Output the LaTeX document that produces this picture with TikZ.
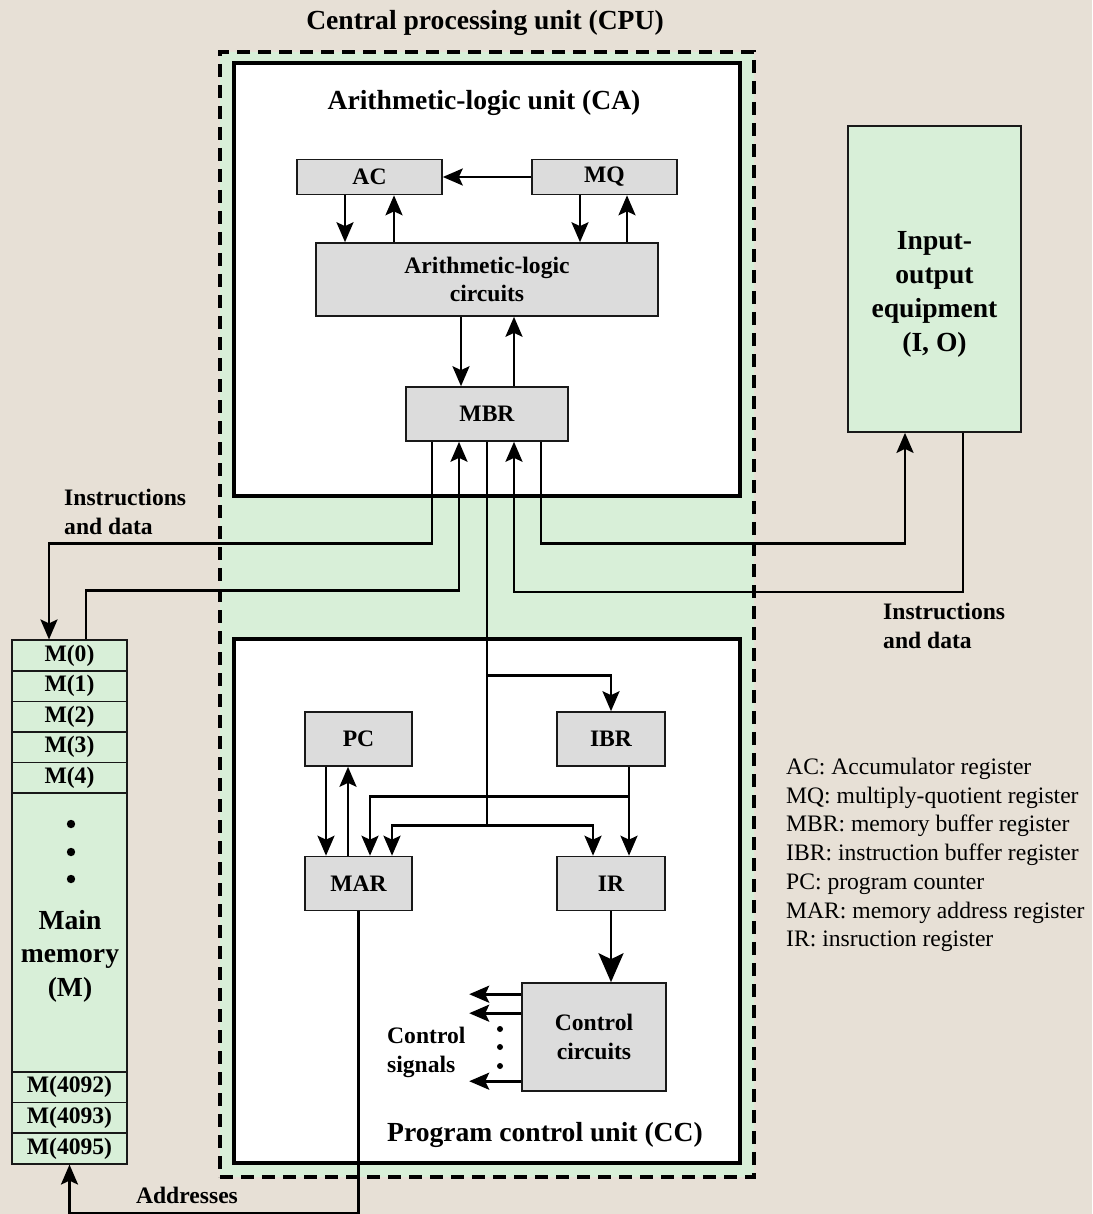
\documentclass[tikz,border=0pt]{standalone}
\usepackage{fontspec}
\setmainfont{Liberation Serif}
\usetikzlibrary{arrows.meta}

\definecolor{paper}{RGB}{231,224,214}
\definecolor{cpugreen}{RGB}{216,239,216}
\definecolor{reggray}{RGB}{220,220,220}

\newcommand{\bigbf}{\fontsize{27.6}{33.5}\selectfont\bfseries}
\newcommand{\smallbf}{\fontsize{23.6}{28.5}\selectfont\bfseries}
\newcommand{\legendfont}{\fontsize{23.6}{28.7}\selectfont}

\tikzset{
  reg/.style={draw=black!90, fill=reggray, line width=1.6pt, inner sep=0pt, font=\smallbf},
  unit/.style={draw, fill=white, line width=3.8pt, inner sep=0pt},
  memcell/.style={draw=black!90, fill=cpugreen, line width=1.5pt, minimum width=115, minimum height=30.6, inner sep=0pt, font=\smallbf},
  conn/.style={line width=2.7pt},
  arr/.style={conn, -{Stealth[length=20pt,width=17pt,inset=4pt]}},
  bigarr/.style={conn, -{Stealth[length=29pt,width=25pt,inset=6pt]}},
  lbl/.style={inner sep=0pt, font=\smallbf, align=left},
  title/.style={inner sep=0pt, font=\bigbf, align=center},
}

\begin{document}
\begin{tikzpicture}[x=1pt, y=-1pt]
    % Background
    \fill[paper] (0,0) rectangle (1092,1214);
    \useasboundingbox (0,0) rectangle (1092,1214);

    % Central processing unit
    \node[title] (cpulabel) at (485,23) {Central processing unit (CPU)};
    \node[draw, fill=cpugreen, line width=3.4pt, dash pattern=on 13pt off 8pt,
          minimum width=534, minimum height=1125] (cpu) at (487,614.5) {};

    % Arithmetic-logic unit
    \node[unit, minimum width=506, minimum height=433] (ca) at (487,279.5) {};
    \node[title] (catitle) at (484,103) {Arithmetic-logic unit (CA)};
    \node[reg, minimum width=145, minimum height=35] (ac) at (369.5,177) {AC};
    \node[reg, minimum width=145, minimum height=35] (mq) at (604.5,177) {MQ};
    \node[reg, minimum width=342, minimum height=73, align=center] (alc) at (487,279.5) {Arithmetic-logic\\circuits};
    \node[reg, minimum width=162, minimum height=54] (mbr) at (487,414) {MBR};

    % Program control unit
    \node[unit, minimum width=506, minimum height=524] (cc) at (487,901) {};
    \node[title] (cctitle) at (545,1135) {Program control unit (CC)};
    \node[reg, minimum width=107, minimum height=54] (pc) at (358.5,739) {PC};
    \node[reg, minimum width=108, minimum height=54] (ibr) at (611,739) {IBR};
    \node[reg, minimum width=107, minimum height=54] (mar) at (358.5,883.5) {MAR};
    \node[reg, minimum width=108, minimum height=54] (ir) at (611,883.5) {IR};
    \node[reg, minimum width=144, minimum height=108, align=center] (ctrl) at (594,1037) {Control\\circuits};

    % Input-output equipment
    \node[draw=black!90, fill=cpugreen, line width=1.7pt, minimum width=173, minimum height=306] (io) at (934.5,279) {};
    \node[title, font=\fontsize{27.6}{34}\selectfont\bfseries] (iolabel) at (934.5,294) {Input-\\output\\equipment\\(I, O)};

    % Main memory
    \foreach \i in {0,...,4}
        \node[memcell] (m\i) at (69.5,655.5+30.6*\i) {M(\i)};
    \node[memcell, minimum height=279] (mbody) at (69.5,932.5) {};
    \foreach \y in {824,852,879}
        \fill (71,\y) circle (4.2);
    \node[title] (mlabel) at (70,956) {Main\\memory\\(M)};
    \node[memcell] (m4092) at (69.5,1087.3) {M(4092)};
    \node[memcell] (m4093) at (69.5,1117.9) {M(4093)};
    \node[memcell] (m4095) at (69.5,1148.5) {M(4095)};

    % Inside the ALU
    \draw[arr] (mq.west) -- (ac.east);
    \draw[arr] ([xshift=-24.5]ac.south) -- ([xshift=-24.5]ac.south |- alc.north);
    \draw[arr] ([xshift=24.5]ac.south |- alc.north) -- ([xshift=24.5]ac.south);
    \draw[arr] ([xshift=-24.5]mq.south) -- ([xshift=-24.5]mq.south |- alc.north);
    \draw[arr] ([xshift=22.5]mq.south |- alc.north) -- ([xshift=22.5]mq.south);
    \draw[arr] ([xshift=-26]alc.south) -- ([xshift=-26]alc.south |- mbr.north);
    \draw[arr] ([xshift=27]alc.south |- mbr.north) -- ([xshift=27]alc.south);

    % MBR to memory and I/O
    \draw[arr] ([xshift=-55]mbr.south) -- ++(0,102) -| ([xshift=-20.5]m0.north);
    \draw[arr] ([xshift=16.5]m0.north) -- ++(0,-49) -| ([xshift=-28]mbr.south);
    \draw[arr] ([xshift=54]mbr.south) -- ++(0,102) -| ([xshift=-29.5]io.south);
    \draw[arr] ([xshift=28.5]io.south) -- ++(0,159) -| ([xshift=27]mbr.south);
    \node[lbl, anchor=north west] (iddleft) at (64,489) {Instructions\\and data};
    \node[lbl, anchor=north west] (iddright) at (883,603) {Instructions\\and data};

    % Bus into the control unit
    \draw[conn] (mbr.south) -- ++(0,384) coordinate (busend);
    \draw[arr] ([yshift=-234]mbr.south) -| (ibr.north);
    \draw[arr] (busend) -| ([xshift=33.5]mar.north);
    \draw[arr] (busend) -| ([xshift=-18]ir.north);
    \draw[arr] ([xshift=18]ibr.south) -- ([xshift=18]ir.north);
    \draw[arr] ([xshift=18,yshift=-30]ibr.south) -| ([xshift=11.5]mar.north);
    \draw[arr] ([xshift=-32.5]pc.south) -- ([xshift=-32.5]mar.north);
    \draw[arr] ([xshift=-10.5]mar.north) -- ([xshift=-10.5]pc.south);
    \draw[bigarr] (ir.south) -- (ir.south |- ctrl.north);

    % Control signals
    \foreach \s in {12,31,99}
        \draw[arr] ([yshift=-\s]ctrl.north west) -- ++(-52,0);
    \foreach \y in {1029,1047,1066}
        \fill (500,\y) circle (3);
    \node[lbl, anchor=north west] (ctrlsig) at (387,1027) {Control\\signals};

    % Addresses
    \draw[arr] (mar.south) -- ++(0,302) -| (m4095.south);
    \node[lbl] (addr) at (187,1195) {Addresses};

    % Legend
    \node[inner sep=0pt, font=\legendfont, align=left, anchor=north west] (legend) at (786,758)
        {AC: Accumulator register\\
         MQ: multiply-quotient register\\
         MBR: memory buffer register\\
         IBR: instruction buffer register\\
         PC: program counter\\
         MAR: memory address register\\
         IR: insruction register};
\end{tikzpicture}
\end{document}
